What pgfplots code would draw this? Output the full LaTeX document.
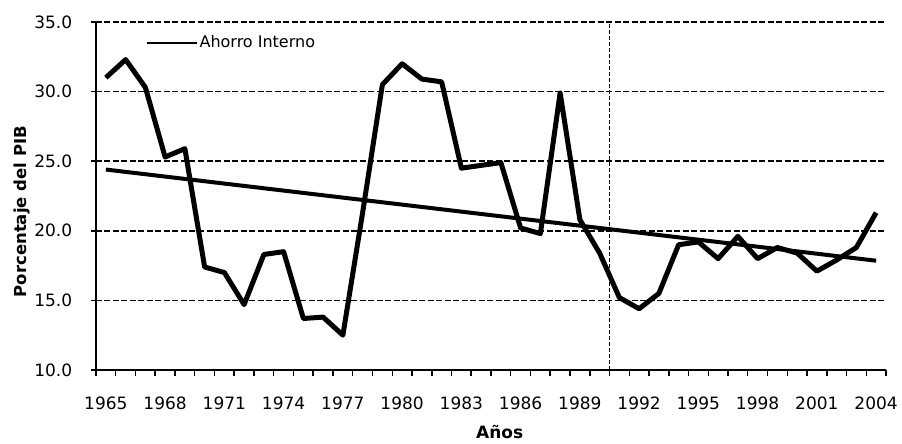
\documentclass[border=0pt]{standalone}
\usepackage{pgfplots}
\pgfplotsset{compat=1.18}
\usepackage{fontspec}
\setmainfont{DejaVu Sans}
\pgfplotstableread{
year val
1965 31.0
1966 32.3
1967 30.3
1968 25.3
1969 25.9
1970 17.4
1971 17.0
1972 14.7
1973 18.3
1974 18.5
1975 13.7
1976 13.8
1977 12.5
1978 21.3
1979 30.5
1980 32.0
1981 30.9
1982 30.7
1983 24.5
1984 24.7
1985 24.9
1986 20.2
1987 19.8
1988 29.9
1989 20.8
1990 18.4
1991 15.2
1992 14.4
1993 15.5
1994 19.0
1995 19.2
1996 18.0
1997 19.6
1998 18.0
1999 18.8
2000 18.4
2001 17.1
2002 17.9
2003 18.8
2004 21.3
}\ahorro
\begin{document}
\fontsize{17}{20}\selectfont
\begin{tikzpicture}
\begin{axis}[name=ax, scale only axis, width=790pt, height=348pt,
  xmin=1964.5, xmax=2004.5, ymin=10, ymax=35,
  axis x line*=bottom, axis y line*=left,
  axis line style={line width=2pt,-},
  tick align=outside,
  xtick={1965,1968,...,2004},
  major x tick style={draw=none},
  minor xtick={1964.5,1965.5,...,2004.5},
  minor tick length=6pt,
  minor x tick style={line width=1.5pt,black},
  ytick={10,15,...,35},
  major tick length=5pt,
  major y tick style={line width=1.5pt,black},
  ymajorgrids,
  major grid style={black, line width=1.7pt, dash pattern=on 6pt off 2.5pt},
  x tick label style={/pgf/number format/1000 sep={}, font=\fontsize{17}{20}\selectfont, yshift=-16pt},
  y tick label style={/pgf/number format/.cd, fixed, fixed zerofill, precision=1, /tikz/.cd, font=\fontsize{17}{20}\selectfont, xshift=-13pt},
  /pgf/number format/assume math mode=true,
  xlabel={\bfseries Años},
  ylabel={\bfseries Porcentaje del PIB},
  xlabel style={font=\fontsize{17}{20}\selectfont, at={(ticklabel cs:0.511)}, yshift=-4pt},
  ylabel style={font=\fontsize{16.5}{20}\selectfont, at={(ticklabel cs:0.455)}, yshift=-7pt},
  legend style={draw=none, fill=none, at={(axis cs:1967.0,33.5)}, anchor=west, inner sep=0pt,
    font=\fontsize{16}{20}\selectfont},
  legend image code/.code={\draw[line width=2pt] (0pt,0pt) -- (50pt,0pt);},
]
\addplot[black, line width=5pt, line join=round] table[x=year, y=val] {\ahorro};
\addlegendentry{Ahorro Interno}
\addplot[black, line width=4pt, forget plot] coordinates {(1965,24.4) (2004,17.85)};
\addplot[black, line width=1.3pt, dash pattern=on 4pt off 2pt, forget plot] coordinates {(1990.5,10) (1990.5,35)};
\end{axis}
\pgfresetboundingbox
\path ([shift={(-96pt,-74pt)}]ax.south west) rectangle ([shift={(16pt,22pt)}]ax.north east);
\end{tikzpicture}
\end{document}
